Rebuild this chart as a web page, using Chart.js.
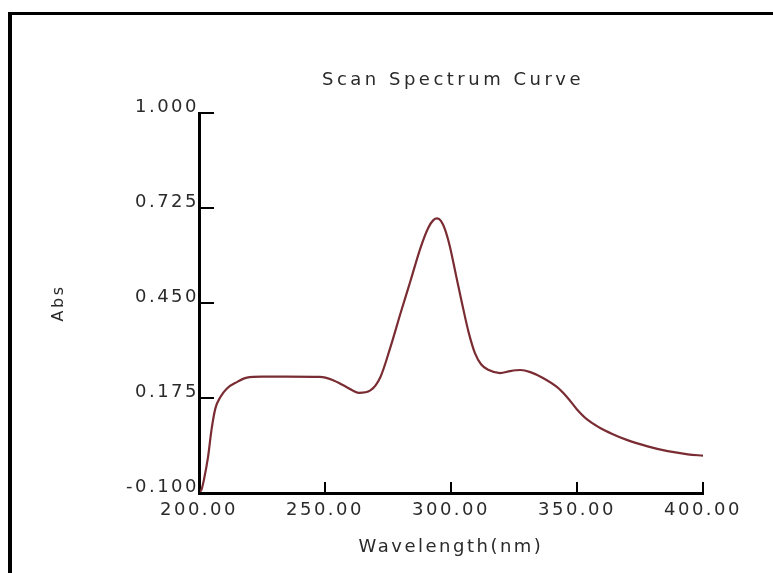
<!DOCTYPE html>
<html>
<head>
<meta charset="utf-8">
<script src="https://cdn.jsdelivr.net/npm/chart.js@4"></script>
<style>
    html, body { margin: 0; padding: 0; background: #fff; overflow: hidden; }
    #frame { position: absolute; left: 8px; top: 12px; width: 900px; height: 700px;
             border-left: 4px solid #000; border-top: 3px solid #000; }
    #wrap { position: absolute; left: 0; top: 0; width: 773px; height: 573px; }
</style>
</head>
<body>
<div id="frame"></div>
<div id="wrap"><canvas id="myChart" width="773" height="573"></canvas></div>
<script>
var chartTitle = "Scan Spectrum Curve";
var xTitle = "Wavelength(nm)";
var yTitle = "Abs";

var xTicks = [200, 250, 300, 350, 400];
var yTicks = [-0.1, 0.175, 0.45, 0.725, 1.0];

var wavelength = [200, 201, 202, 203.5, 205, 206.5, 208.5, 211, 215, 219, 225, 235, 248, 253, 258.5,
    263.5, 268, 272, 276, 280, 284, 288, 291, 293, 294.5, 296, 297.5, 299.5, 302, 304.5, 307, 309.5, 312,
    315, 319.5, 323.5, 327.5, 331.5, 336.5, 342, 346, 350, 354, 359, 364, 370, 378, 386, 394, 400];
var absorbance = [-0.098, -0.09, -0.06, 0.0, 0.085, 0.145, 0.178, 0.202, 0.221, 0.234, 0.237, 0.237, 0.236, 0.227, 0.207,
    0.190, 0.197, 0.236, 0.323, 0.421, 0.516, 0.612, 0.668, 0.690, 0.695, 0.688, 0.665, 0.615, 0.530, 0.445, 0.365, 0.305, 0.272,
    0.256, 0.247, 0.253, 0.256, 0.250, 0.233, 0.207, 0.178, 0.142, 0.113, 0.089, 0.071, 0.053, 0.035, 0.021, 0.012, 0.008];

var textColor = '#2a2a2a';
var fontFamily = '"DejaVu Sans", Verdana, sans-serif';

// wide lettering like the instrument software
var spacingPlugin = {
    id: 'spacing',
    beforeUpdate: function (chart) { chart.ctx.letterSpacing = '2.5px'; },
    beforeDraw: function (chart) { chart.ctx.letterSpacing = '2.5px'; }
};

// ticks point into the plot, title sits over the plot area
var innerTicks = {
    id: 'innerTicks',
    afterDraw: function (chart) {
        var ctx = chart.ctx;
        var area = chart.chartArea;
        var xs = chart.scales.x, ys = chart.scales.y;
        ctx.save();
        ctx.strokeStyle = '#000';
        ctx.lineWidth = 2;
        yTicks.forEach(function (v) {
            var py = Math.round(ys.getPixelForValue(v));
            ctx.beginPath();
            ctx.moveTo(area.left, py);
            ctx.lineTo(area.left + 15, py);
            ctx.stroke();
        });
        xTicks.forEach(function (v) {
            var px = Math.round(xs.getPixelForValue(v));
            ctx.beginPath();
            ctx.moveTo(px, area.bottom);
            ctx.lineTo(px, area.bottom - 11);
            ctx.stroke();
        });
        ctx.letterSpacing = '3.5px';
        ctx.fillStyle = textColor;
        ctx.font = '18px ' + fontFamily;
        ctx.textAlign = 'center';
        ctx.textBaseline = 'middle';
        ctx.fillText(chartTitle, (area.left + area.right) / 2 + 2, 80);
        ctx.restore();
    }
};

function createChart() {
    var points = wavelength.map(function (w, i) { return {x: w, y: absorbance[i]}; });

    new Chart(document.getElementById('myChart'), {
        type: 'line',
        data: {
            datasets: [{
                data: points,
                borderColor: '#7a2c33',
                borderWidth: 2.2,
                pointRadius: 0,
                fill: false,
                cubicInterpolationMode: 'monotone'
            }]
        },
        options: {
            responsive: false,
            animation: false,
            layout: { padding: { left: 45, right: 70, top: 113, bottom: 0 } },
            plugins: { legend: { display: false }, tooltip: { enabled: false } },
            scales: {
                x: {
                    type: 'linear',
                    min: 200,
                    max: 400,
                    afterBuildTicks: function (s) { s.ticks = xTicks.map(function (v) { return {value: v}; }); },
                    afterFit: function (s) { s.height = 80; },
                    grid: { display: false, drawTicks: false },
                    border: { display: true, color: '#000', width: 3 },
                    ticks: {
                        color: textColor,
                        font: { family: fontFamily, size: 18 },
                        padding: 7,
                        maxRotation: 0,
                        callback: function (v) { return v.toFixed(2); }
                    },
                    title: {
                        display: true,
                        text: xTitle,
                        color: textColor,
                        font: { family: fontFamily, size: 18 },
                        padding: { top: 4, bottom: 15 }
                    }
                },
                y: {
                    min: -0.1,
                    max: 1.0,
                    afterBuildTicks: function (s) { s.ticks = yTicks.map(function (v) { return {value: v}; }); },
                    afterFit: function (s) { s.width = 154; },
                    grid: { display: false, drawTicks: false },
                    border: { display: true, color: '#000', width: 3 },
                    ticks: {
                        color: textColor,
                        font: { family: fontFamily, size: 18 },
                        padding: 0,
                        labelOffset: -6,
                        callback: function (v) { return v.toFixed(3); }
                    },
                    title: {
                        display: true,
                        text: yTitle,
                        color: textColor,
                        font: { family: fontFamily, size: 16 },
                        padding: { top: 4, bottom: 4 }
                    }
                }
            }
        },
        plugins: [spacingPlugin, innerTicks]
    });
}

createChart();
</script>
</body>
</html>
